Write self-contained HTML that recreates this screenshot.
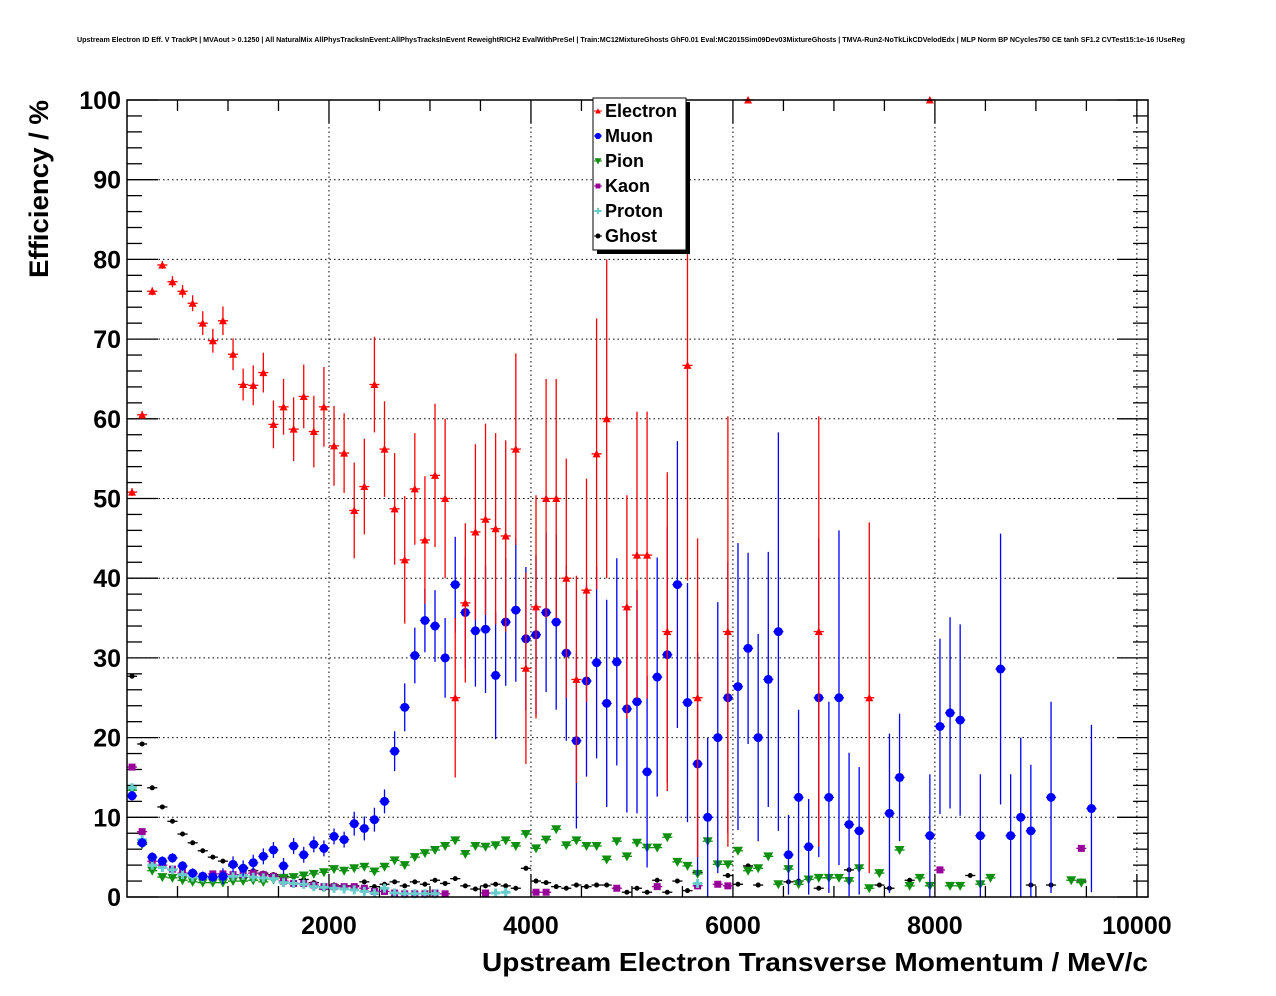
<!DOCTYPE html>
<html><head><meta charset="utf-8"><style>
html,body{margin:0;padding:0;background:#fff;}
svg{display:block;font-family:"Liberation Sans",Arial,sans-serif;}
</style></head><body>
<svg id="chart" width="1276" height="996" viewBox="0 0 1276 996" xmlns="http://www.w3.org/2000/svg">
<rect x="0" y="0" width="1276" height="996" fill="#fff"/>
<text x="77" y="42" font-size="7" font-weight="bold" textLength="1108" lengthAdjust="spacingAndGlyphs">Upstream Electron ID Eff. V TrackPt | MVAout &gt; 0.1250 | All NaturalMix AllPhysTracksInEvent:AllPhysTracksInEvent ReweightRICH2 EvalWithPreSel | Train:MC12MixtureGhosts GhF0.01 Eval:MC2015Sim09Dev03MixtureGhosts | TMVA-Run2-NoTkLikCDVelodEdx | MLP Norm BP NCycles750 CE tanh SF1.2 CVTest15:1e-16 !UseReg</text>
<g id="grid"></g>
<g id="axes"></g>
<g id="plot"></g>
<rect x="127" y="100" width="1021" height="797" fill="none" stroke="#000" stroke-width="1.5"/>
<text x="1148" y="971" text-anchor="end" font-size="26" font-weight="bold" textLength="666" lengthAdjust="spacingAndGlyphs">Upstream Electron Transverse Momentum / MeV/c</text>
<text transform="translate(48,100) rotate(-90)" text-anchor="end" font-size="27" font-weight="bold" textLength="178" lengthAdjust="spacingAndGlyphs">Efficiency / %</text>
<g id="legend"></g>
</svg>
<script>
// ---- data (bin index k -> bin centre 50+100k MeV) ----
const xTicks = [2000, 4000, 6000, 8000, 10000];
const yTicks = [0, 10, 20, 30, 40, 50, 60, 70, 80, 90, 100];

const elecBin = [0,1,2,3,4,5,6,7,8,9,10,11,12,13,14,15,16,17,18,19,20,21,22,23,24,25,26,27,28,29,30,31,32,33,34,35,36,37,38,39,40,41,42,43,44,45,46,47,49,50,51,53,55,56,59,61,68,73,79];
const elecVal = [50.8,60.5,76,79.3,77.2,76,74.5,72,69.8,72.3,68.1,64.3,64.2,65.8,59.3,61.5,58.7,62.8,58.4,61.5,56.6,55.7,48.5,51.5,64.3,56.2,48.7,42.3,51.2,44.8,52.9,50,25,36.9,45.8,47.4,46.2,45.3,56.2,28.7,36.4,50,50,40,27.3,38.5,55.6,60,36.4,42.9,42.9,33.3,66.7,25,33.3,100,33.3,25,100];
const elecErr = [0.5,0.5,0.5,0.5,0.7,0.8,1,1.5,1.5,1.8,2,2,2.5,2.5,3,3.5,4,4,4.5,5,5,5,6,6,6,6,7,8,7,8,9,10,10,10,11,12,12,12,12,12,14,15,15,15,13,14,17,20,14,18,18,20,27,20,27,0,27,22,0];

const muonBin = [0,1,2,3,4,5,6,7,8,9,10,11,12,13,14,15,16,17,18,19,20,21,22,23,24,25,26,27,28,29,30,31,32,33,34,35,36,37,38,39,40,41,42,43,44,45,46,47,48,49,50,51,52,53,54,55,56,57,58,59,60,61,62,63,64,65,66,67,68,69,70,71,72,75,76,79,80,81,82,84,86,87,88,89,91,95];
const muonVal = [12.7,6.8,5.0,4.5,4.9,3.9,3.0,2.6,2.5,2.6,4.1,3.6,4.3,5.1,5.9,3.9,6.4,5.3,6.6,6.1,7.6,7.2,9.2,8.6,9.7,12,18.3,23.8,30.3,34.7,34,30,39.2,35.7,33.4,33.6,27.8,34.5,36,32.4,32.9,35.7,34.5,30.6,19.6,27.1,29.4,24.3,29.5,23.6,24.5,15.7,27.6,30.4,39.2,24.4,16.7,10,20,25,26.4,31.2,20,27.3,33.3,5.3,12.5,6.3,25,12.5,25,9.1,8.3,10.5,15,7.7,21.4,23.1,22.2,7.7,28.6,7.7,10,8.3,12.5,11.1];
const muonErr = [0.6,0.6,0.6,0.6,0.6,0.6,0.6,0.6,0.6,1,1,1,1,1,1,1,1,1,1,1,1,1,1.5,1.5,1.5,1.5,2.5,3,3.5,4,4.5,5,6,7,7,8,8,8,9,9,10,10,11,11,11,12,12,13,13,13,14,12,15,16,18,15,14,10,17,17,18,12,13,16,25,5,11,6,20,12,21,9,8,10,8,7.7,11,12,12,7.7,17,7.7,10,8.3,12,10.5];

const pionBin = [0,1,2,3,4,5,6,7,8,9,10,11,12,13,14,15,16,17,18,19,20,21,22,23,24,25,26,27,28,29,30,31,32,33,34,35,36,37,38,39,40,41,42,43,44,45,46,47,48,49,50,51,52,53,54,55,56,57,58,59,60,61,62,63,64,65,66,67,68,69,70,71,72,73,74,76,77,78,79,81,82,84,85,93,94];
const pionVal = [13.4,6.6,3.3,2.5,2.4,2.1,1.9,1.8,1.8,1.8,2,2,2.1,1.9,2.2,2.4,2.5,2.7,2.9,3.1,3.5,3.3,3.6,3.8,3.2,3.8,4.6,4,5,5.5,5.9,6.4,7.1,5.4,6.4,6.3,6.5,7.1,6.4,7.9,6.1,7.2,8.5,6.5,7.1,6.4,6.4,4.7,7,5.1,6.8,6.2,6.2,7.5,4.4,3.9,2.9,7,4.1,4.1,5.8,3.3,3.6,5.1,1.6,3.5,1.6,2.2,2.4,2.4,2.4,2,3.6,1.1,3,5.9,1.4,2.4,1.4,1.4,1.4,1.6,2.4,2.1,1.8];

const kaonBin = [0,1,2,3,4,5,6,7,8,9,10,11,12,13,14,15,16,17,18,19,20,21,22,23,24,25,26,27,28,29,30,31,35,40,41,48,52,56,58,59,80,94];
const kaonVal = [16.3,8.2,4.5,4,3.5,3.0,2.9,2.6,2.9,2.9,2.8,2.8,3.0,2.8,2.6,2.0,1.7,1.7,1.5,1.3,1.3,1.3,1.3,1.1,0.7,0.7,0.5,0.4,0.4,0.4,0.5,0.4,0.5,0.6,0.6,1.1,1.3,1.4,1.6,1.4,3.4,6.1];

const protonBin = [0,1,2,3,4,5,6,7,8,9,10,11,12,13,14,15,16,17,18,19,20,21,22,23,24,25,26,27,28,29,30,36,37,56];
const protonVal = [13.7,7.2,4,3.7,3.4,2.8,2.5,2.4,2.4,2.5,2.6,2.7,2.5,2.4,2.3,1.8,1.7,1.6,1.3,1.2,1.1,1.0,0.9,0.7,0.5,1.1,0.5,0.4,0.4,0.4,0.4,0.5,0.6,1.7];

const ghostBin = [0,1,2,3,4,5,6,7,8,9,10,11,12,13,14,15,16,17,18,19,20,21,22,23,24,25,26,27,28,29,30,31,32,33,34,35,36,37,38,39,40,41,42,43,44,45,46,47,49,50,51,52,53,54,55,56,59,60,61,62,65,66,68,69,71,74,75,77,83,89,91,94];
const ghostVal = [27.7,19.2,13.7,11.3,9.5,7.9,6.8,5.8,5.0,4.5,3.9,3.7,3.3,3,2.8,2.6,2.5,2.2,1.8,1.0,1.5,1.4,1.4,1.9,1.3,1.6,1.9,1.4,1.9,1.6,2.1,1.7,2.3,1.4,1.0,1.4,1.6,1.4,1.1,3.6,2.0,1.8,1.3,1.1,1.5,1.3,1.5,1.5,0.6,1.1,0.6,2.1,0.6,2,0.8,3.1,2.7,1.6,3.9,1.5,1.9,2.0,1.1,2.4,3.4,1.5,1.1,2.1,2.7,1.5,1.5,2.0];

// ---- axes ----
const X0 = 127, X1 = 1148, Y0 = 897, Y1 = 100;
const XMIN = 0, XMAX = 10110, YMIN = 0, YMAX = 100;
const BIN = 100;
function xs(v){ return X0 + (v - XMIN) / (XMAX - XMIN) * (X1 - X0); }
function ys(v){ return Y0 - (v - YMIN) / (YMAX - YMIN) * (Y0 - Y1); }
function binCenter(k){ return BIN * k + BIN / 2; }

const NS = "http://www.w3.org/2000/svg";
function mk(tag, attrs, parent){
  const e = document.createElementNS(NS, tag);
  for (const a in attrs) e.setAttribute(a, attrs[a]);
  parent.appendChild(e);
  return e;
}
const grid = document.getElementById('grid');
const axes = document.getElementById('axes');
const plot = document.getElementById('plot');
const legend = document.getElementById('legend');

xTicks.forEach(t => {
  if (t >= XMAX) return;
  const l = mk('line', {x1: xs(t), x2: xs(t), y1: Y1, y2: Y0, stroke: '#000', 'stroke-width': 1, 'stroke-dasharray': '1.5,3'}, grid);
  
  
});
yTicks.forEach(t => {
  if (t <= YMIN || t >= YMAX) return;
  const l = mk('line', {x1: X0, x2: X1, y1: ys(t), y2: ys(t), stroke: '#000', 'stroke-width': 1, 'stroke-dasharray': '1.5,3'}, grid);
  
  
});

for (let v = YMIN; v <= YMAX; v += 2) {
  const major = (v % 10 === 0);
  const len = major ? 31 : 15;
  const y = ys(v);
  mk('line', {x1: X0, x2: X0 + len, y1: y, y2: y, stroke: '#000', 'stroke-width': 1.3}, axes);
  mk('line', {x1: X1, x2: X1 - len, y1: y, y2: y, stroke: '#000', 'stroke-width': 1.3}, axes);
}
yTicks.forEach(t => {
  const tx = mk('text', {x: 121, y: ys(t) + 9, 'text-anchor': 'end', 'font-size': 25, 'font-weight': 'bold'}, axes);
  tx.textContent = t;
  
  
});
for (let v = 500; v < XMAX; v += 500) {
  const major = (v % 2000 === 0);
  const len = major ? 23 : 11;
  const x = xs(v);
  mk('line', {x1: x, x2: x, y1: Y0, y2: Y0 - len, stroke: '#000', 'stroke-width': 1.3}, axes);
  mk('line', {x1: x, x2: x, y1: Y1, y2: Y1 + len, stroke: '#000', 'stroke-width': 1.3}, axes);
}
xTicks.forEach(t => {
  const px = Math.min(xs(t), X1);
  const tx = mk('text', {x: px, y: 934, 'text-anchor': 'middle', 'font-size': 25, 'font-weight': 'bold'}, axes);
  tx.textContent = t;
  
  
});

function marker(shape, color, cx, cy, parent){
  let m;
  if (shape === 'tri-up') m = mk('polygon', {points: `${cx-4},${cy+3.5} ${cx+4},${cy+3.5} ${cx},${cy-4}`, fill: color}, parent);
  else if (shape === 'tri-down') m = mk('polygon', {points: `${cx-5},${cy-4} ${cx+5},${cy-4} ${cx},${cy+5}`, fill: color}, parent);
  else if (shape === 'circle') m = mk('circle', {cx: cx, cy: cy, r: 4.5, fill: color}, parent);
  else if (shape === 'small') m = mk('circle', {cx: cx, cy: cy, r: 2.5, fill: color}, parent);
  else if (shape === 'square') m = mk('rect', {x: cx-3.5, y: cy-3.5, width: 7, height: 7, fill: color}, parent);
  else if (shape === 'cross') m = mk('path', {d: `M${cx-4.5},${cy-1.5}h3v-3h3v3h3v3h-3v3h-3v-3h-3z`, fill: color}, parent);
  return m;
}
function drawSeries(name, bins, vals, errs, color, shape){
  const g = mk('g', {}, plot);
  
  
  bins.forEach((k, i) => {
    const v = vals[i];
    if (v === null || v === undefined) return;
    const c = binCenter(k);
    const cx = xs(c), cy = ys(v);
    const pg = mk('g', {}, g);
    
    
    mk('line', {x1: xs(c - BIN/2), x2: xs(c + BIN/2), y1: cy, y2: cy, stroke: color, 'stroke-width': 1.3}, pg);
    if (errs) {
      const e = errs[i];
      if (e > 0) {
        const top = Math.max(Y1, ys(Math.min(YMAX, v + e)));
        const bot = Math.min(Y0, ys(Math.max(YMIN, v - e)));
        mk('line', {x1: cx, x2: cx, y1: top, y2: bot, stroke: color, 'stroke-width': 1.3}, pg);
      }
    }
    marker(shape, color, cx, cy, pg);
  });
}
drawSeries('ghost', ghostBin, ghostVal, null, '#000', 'small');
drawSeries('pion', pionBin, pionVal, null, '#109010', 'tri-down');
drawSeries('kaon', kaonBin, kaonVal, null, '#990099', 'square');
drawSeries('proton', protonBin, protonVal, null, '#66cccc', 'cross');
drawSeries('muon', muonBin, muonVal, muonErr, '#0000ff', 'circle');
drawSeries('electron', elecBin, elecVal, elecErr, '#ff0000', 'tri-up');

const legItems = [['Electron','#ff0000','tri-up'],['Muon','#0000ff','circle'],['Pion','#109010','tri-down'],['Kaon','#990099','square'],['Proton','#66cccc','cross'],['Ghost','#000','small']];
mk('rect', {x: 597, y: 102, width: 93, height: 152, fill: '#000'}, legend);
mk('rect', {x: 593, y: 98, width: 93, height: 152, fill: '#fff', stroke: '#000', 'stroke-width': 1}, legend);
legItems.forEach((it, i) => {
  const y = 111 + i * 25;
  const g = mk('g', {}, legend);
  
  
  mk('line', {x1: 594, x2: 602, y1: y, y2: y, stroke: it[1], 'stroke-width': 1}, g);
  const sm = it[2];
  const m = marker(sm, it[1], 598, y, g);
  if (sm !== 'small') m.setAttribute('transform', `translate(598,${y}) scale(0.7) translate(-598,${-y})`);
  const t = mk('text', {x: 605, y: y + 6, 'font-size': 18, 'font-weight': 'bold'}, g);
  t.textContent = it[0];
});
</script>
</body></html>
